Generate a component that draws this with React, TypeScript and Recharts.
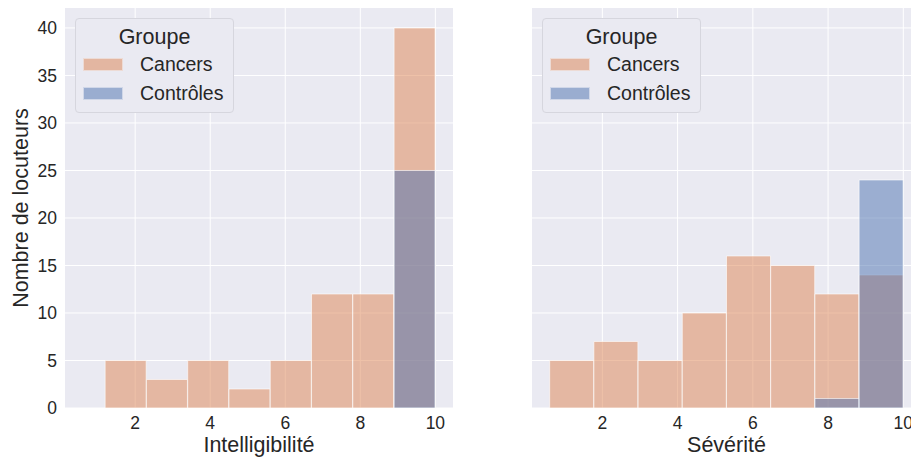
import React from "react";
import { Bar, BarChart, CartesianGrid, XAxis, YAxis } from "recharts";

// bin centres (equal-width bins) and counts
const intelCentres = [1.75, 2.85, 3.95, 5.05, 6.15, 7.25, 8.35, 9.45];
const intelCancers = [5, 3, 5, 2, 5, 12, 12, 40];
const intelControles = [0, 0, 0, 0, 0, 0, 0, 25];

const sevCentres = [1.1875, 2.3625, 3.5375, 4.7125, 5.8875, 7.0625, 8.2375, 9.4125];
const sevCancers = [5, 7, 5, 10, 16, 15, 12, 14];
const sevControles = [0, 0, 0, 0, 0, 0, 1, 24];

const xTicks = [2, 4, 6, 8, 10];
const yTicks = [0, 5, 10, 15, 20, 25, 30, 35, 40];
const groups = ["Cancers", "Contrôles"];

const ORANGE = "#DD8452";
const BLUE = "#4C72B0";
const BG = "#EAEAF2";
const INK = "#262626";
const FONT = "'Liberation Sans', Arial, sans-serif";

const X_DOMAIN: [number, number] = [0.13, 10.47];
const Y_DOMAIN: [number, number] = [0, 42.1];

function Legend() {
  const colors = [ORANGE, BLUE];
  return (
    <div
      style={{
        position: "absolute",
        left: 0,
        top: 0,
        width: 159,
        height: 95,
        boxSizing: "border-box",
        border: "1px solid #D6D6DE",
        borderRadius: 4,
        background: BG,
        fontFamily: FONT,
        color: INK,
      }}
    >
      <div
        style={{
          position: "absolute",
          top: 3,
          left: 0,
          width: "100%",
          textAlign: "center",
          fontSize: 21.5,
          lineHeight: "30px",
        }}
      >
        Groupe
      </div>
      {groups.map((g, i) => (
        <React.Fragment key={g}>
          <div
            style={{
              position: "absolute",
              left: 7,
              top: 39 + i * 29,
              width: 40,
              height: 13,
              boxSizing: "border-box",
              border: "1px solid rgba(255,255,255,0.6)",
              background: colors[i],
              opacity: 0.5,
            }}
          />
          <div
            style={{
              position: "absolute",
              left: 64,
              top: 31 + i * 29,
              fontSize: 19.5,
              lineHeight: "28px",
              whiteSpace: "nowrap",
            }}
          >
            {g}
          </div>
        </React.Fragment>
      ))}
    </div>
  );
}

type Row = { x: number; cancers: number; controles: number };

function Panel({
  data,
  xLabel,
  showY,
}: {
  data: Row[];
  xLabel: string;
  showY: boolean;
}) {
  const tickStyle = { fill: INK, fontSize: 17.5, fontFamily: FONT };
  return (
    <BarChart
      width={showY ? 460 : 461}
      height={457}
      data={data}
      margin={{ top: 8, right: showY ? 7 : 0, bottom: 0, left: showY ? 0 : 72 }}
      barCategoryGap={0}
      barGap={0}
    >
      <CartesianGrid
        fill={BG}
        stroke="#ffffff"
        strokeWidth={1}
        horizontalValues={yTicks}
        verticalValues={xTicks}
      />
      <XAxis
        dataKey="x"
        type="number"
        domain={X_DOMAIN}
        ticks={xTicks}
        allowDataOverflow
        axisLine={false}
        tickLine={false}
        tick={tickStyle}
        tickMargin={3}
        height={49}
        label={{
          value: xLabel,
          position: "insideBottom",
          offset: 5,
          style: { fill: INK, fontSize: 21.5, fontFamily: FONT },
        }}
      />
      <XAxis
        xAxisId="ctrl"
        dataKey="x"
        type="number"
        domain={X_DOMAIN}
        allowDataOverflow
        hide
      />
      <YAxis
        type="number"
        domain={Y_DOMAIN}
        ticks={yTicks}
        allowDataOverflow
        hide={!showY}
        axisLine={false}
        tickLine={false}
        tick={tickStyle}
        width={65}
        label={
          showY
            ? {
                value: "Nombre de locuteurs",
                angle: -90,
                position: "insideLeft",
                offset: 20,
                style: {
                  fill: INK,
                  fontSize: 21.5,
                  fontFamily: FONT,
                  textAnchor: "middle",
                },
              }
            : undefined
        }
      />
      <Bar
        dataKey="cancers"
        fill={ORANGE}
        fillOpacity={0.5}
        stroke="#ffffff"
        strokeOpacity={0.6}
        strokeWidth={1}
        isAnimationActive={false}
      />
      <Bar
        dataKey="controles"
        xAxisId="ctrl"
        fill={BLUE}
        fillOpacity={0.5}
        stroke="#ffffff"
        strokeOpacity={0.6}
        strokeWidth={1}
        isAnimationActive={false}
      />
    </BarChart>
  );
}

export default function App() {
  const intel = intelCentres.map((x, i) => ({
    x,
    cancers: intelCancers[i],
    controles: intelControles[i],
  }));
  const sev = sevCentres.map((x, i) => ({
    x,
    cancers: sevCancers[i],
    controles: sevControles[i],
  }));
  return (
    <div
      style={{
        position: "fixed",
        left: 0,
        top: 0,
        width: 911,
        height: 457,
        overflow: "hidden",
        background: "#fff",
      }}
    >
      <div style={{ position: "absolute", left: 0, top: 0 }}>
        <Panel data={intel} xLabel="Intelligibilité" showY />
      </div>
      <div style={{ position: "absolute", left: 460, top: 0 }}>
        <Panel data={sev} xLabel="Sévérité" showY={false} />
      </div>
      <div style={{ position: "absolute", left: 75, top: 18 }}>
        <Legend />
      </div>
      <div style={{ position: "absolute", left: 542, top: 18 }}>
        <Legend />
      </div>
    </div>
  );
}
